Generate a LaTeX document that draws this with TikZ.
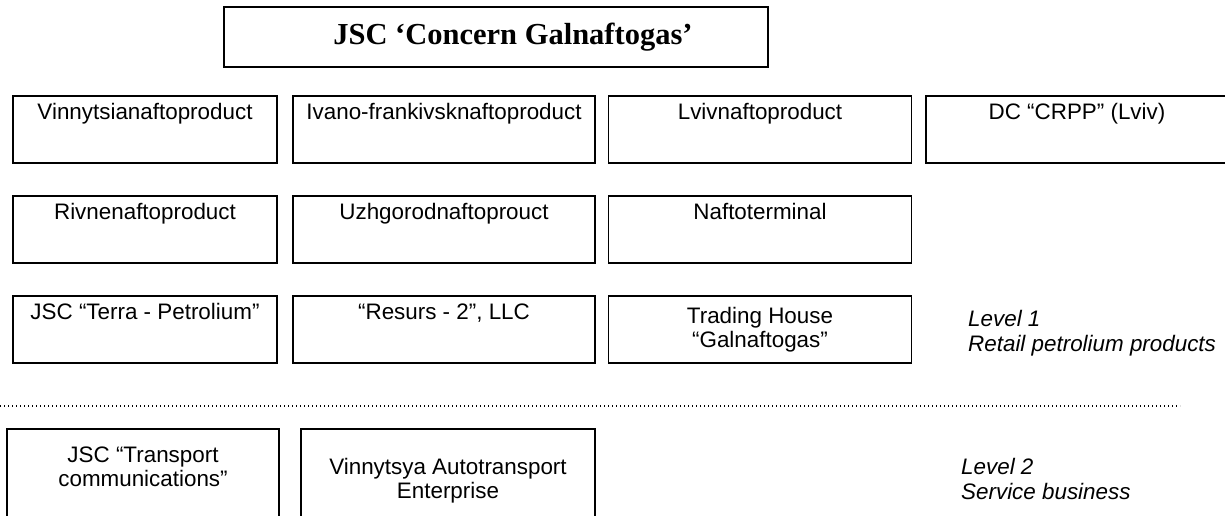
\documentclass[tikz,border=0pt]{standalone}
\usepackage{fontspec}
\setmainfont{Liberation Serif}
\setsansfont{Liberation Sans}
\usepackage{tikz}
\newcommand\unitfont{\sffamily\fontsize{22.4}{24}\selectfont}
\newcommand\headfont{\rmfamily\bfseries\fontsize{30.5}{32}\selectfont}
\newcommand\levelfont{\sffamily\itshape\fontsize{22.4}{25}\selectfont}
\tikzstyle{unit}=[draw,line width=1.5pt,anchor=north,inner sep=0pt,align=center,font=\unitfont,text height=24pt,text depth=43pt]
\tikzstyle{head}=[draw,line width=1.5pt,anchor=north,inner sep=0pt,font=\headfont,minimum width=544pt,minimum height=60pt]
\tikzstyle{level}=[anchor=base west,align=left,inner sep=0pt,font=\levelfont]
\tikzstyle{sep}=[line width=1.3pt,dash pattern=on 1.3pt off 2.7pt]

\begin{document}
\begin{tikzpicture}[x=1pt,y=-1pt]
	\useasboundingbox (0,0) rectangle (1225,515);
	\node[head] (galn) at (496,6) {\hspace*{34pt}JSC ‘Concern Galnaftogas’};
	\node[unit,minimum width=264pt] (vinn)   at (145,95)  {Vinnytsianaftoproduct};
	\node[unit,minimum width=302pt] (ivano)  at (444,95)  {Ivano-frankivsknaftoproduct};
	\node[unit,minimum width=303pt] (lviv)   at (760,95)  {Lvivnaftoproduct};
	\node[unit,minimum width=302pt] (crpp)   at (1077,95) {DC “CRPP” (Lviv)};
	\node[unit,minimum width=264pt] (rivne)  at (145,195) {Rivnenaftoproduct};
	\node[unit,minimum width=302pt] (uzh)    at (444,195) {Uzhgorodnaftoprouct};
	\node[unit,minimum width=303pt] (nafto)  at (760,195) {Naftoterminal};
	\node[unit,minimum width=264pt] (terra)  at (145,295) {JSC “Terra - Petrolium”};
	\node[unit,minimum width=302pt] (resurs) at (444,295) {“Resurs - 2”, LLC};
	\node[unit,minimum width=303pt,text height=52pt,text depth=15pt] (trade) at (760,295) {Trading House\\“Galnaftogas”};
	\node[level] (lvl1) at (968,351) {Level 1\\Retail petrolium products};
	\coordinate (sepl) at (0,406);
	\coordinate (sepr) at (1180,406);
	\draw[sep] (sepl) -- (sepr);
	\node[unit,minimum width=272pt,text height=58pt,text depth=42pt] (tcom) at (143,428) {JSC “Transport\\communications”};
	\node[unit,minimum width=294pt,text height=70pt,text depth=30pt] (vat) at (448,428) {Vinnytsya Autotransport\\Enterprise};
	\node[level] (lvl2) at (961,499) {Level 2\\Service business};
\end{tikzpicture}
\end{document}
